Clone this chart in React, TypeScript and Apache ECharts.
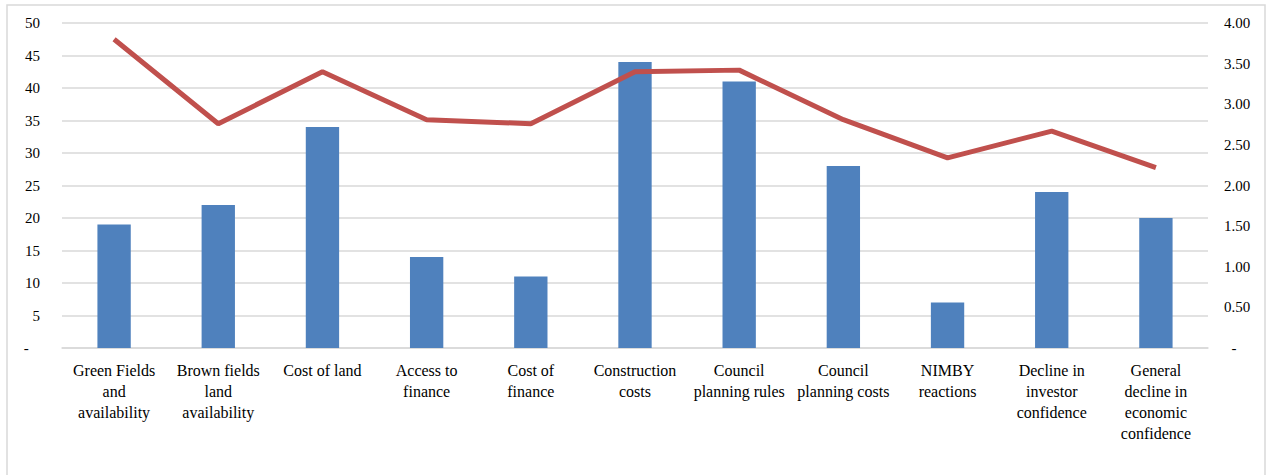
import React, { useEffect, useRef } from "react";
import * as echarts from "echarts";

const categories = [
  "Green Fields\nand\navailability",
  "Brown fields\nland\navailability",
  "Cost of land",
  "Access to\nfinance",
  "Cost of\nfinance",
  "Construction\ncosts",
  "Council\nplanning rules",
  "Council\nplanning costs",
  "NIMBY\nreactions",
  "Decline in\ninvestor\nconfidence",
  "General\ndecline in\neconomic\nconfidence",
];
const barValues = [19, 22, 34, 14, 11, 44, 41, 28, 7, 24, 20];
const lineValues = [3.8, 2.76, 3.4, 2.81, 2.76, 3.4, 3.42, 2.81, 2.34, 2.67, 2.22];

const FONT = "'Liberation Serif', 'DejaVu Serif', serif";

export default function App() {
  const ref = useRef<HTMLDivElement>(null);
  useEffect(() => {
    if (!ref.current) return;
    const chart = echarts.init(ref.current, null, { renderer: "svg" });
    chart.setOption({
      animation: false,
      backgroundColor: "#ffffff",
      textStyle: { fontFamily: FONT },
      graphic: [
        {
          type: "rect",
          shape: { x: 7, y: 5, width: 1258, height: 480 },
          style: { fill: "none", stroke: "#D9D9D9", lineWidth: 1.5 },
          silent: true,
        },
      ],
      grid: { left: 62, right: 60, top: 23, bottom: 127, containLabel: false },
      xAxis: {
        type: "category",
        data: categories,
        axisTick: { show: false },
        axisLine: { lineStyle: { color: "#D9D9D9", width: 1.5 } },
        axisLabel: {
          interval: 0,
          margin: 12,
          color: "#000",
          fontSize: 16,
          lineHeight: 21,
          fontFamily: FONT,
        },
      },
      yAxis: [
        {
          type: "value",
          min: 0,
          max: 50,
          interval: 5,
          axisLine: { show: false },
          axisTick: { show: false },
          splitLine: { lineStyle: { color: "#D9D9D9", width: 1.5 } },
          axisLabel: {
            margin: 22,
            color: "#000",
            fontSize: 15,
            fontFamily: FONT,
            formatter: (v: number) => (v === 0 ? "-   " : String(v)),
          },
        },
        {
          type: "value",
          min: 0,
          max: 4,
          interval: 0.5,
          position: "right",
          axisLine: { show: false },
          axisTick: { show: false },
          splitLine: { show: false },
          axisLabel: {
            margin: 16,
            color: "#000",
            fontSize: 15,
            fontFamily: FONT,
            formatter: (v: number) => (v === 0 ? "  -" : v.toFixed(2)),
          },
        },
      ],
      series: [
        {
          type: "bar",
          data: barValues,
          yAxisIndex: 0,
          barWidth: "32%",
          itemStyle: { color: "#4F81BD" },
        },
        {
          type: "line",
          data: lineValues,
          yAxisIndex: 1,
          symbol: "none",
          lineStyle: { color: "#C0504D", width: 5 },
        },
      ],
    });
    return () => chart.dispose();
  }, []);
  return (
    <div
      ref={ref}
      style={{ position: "fixed", left: 0, top: 0, width: 1268, height: 475 }}
    />
  );
}
